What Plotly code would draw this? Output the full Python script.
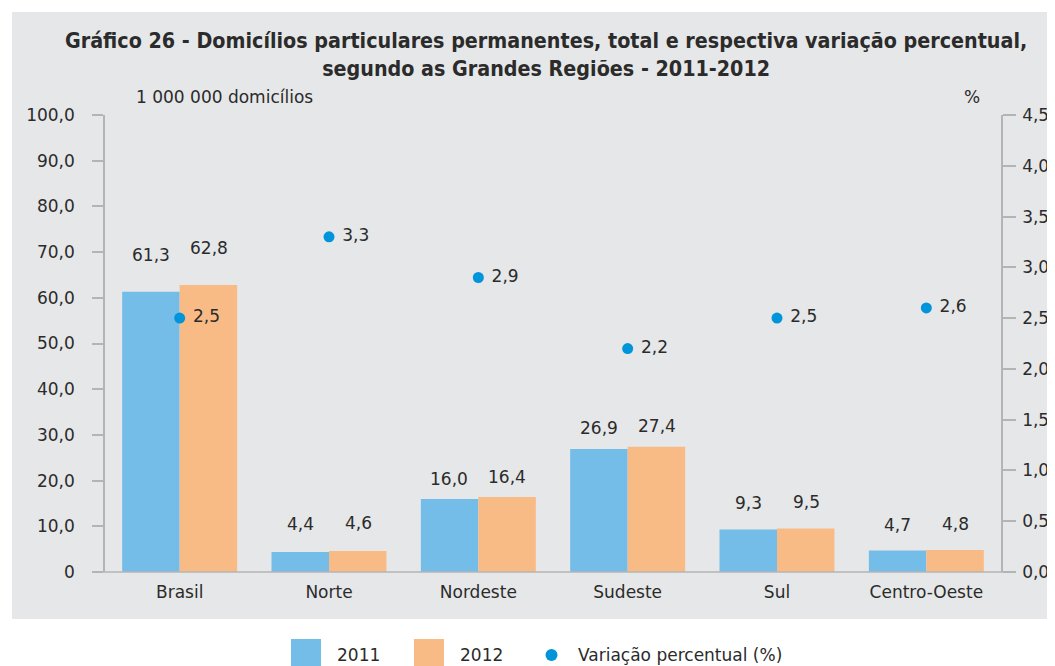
import plotly.graph_objects as go

categories = ["Brasil", "Norte", "Nordeste", "Sudeste", "Sul", "Centro-Oeste"]
dom_2011 = [61.3, 4.4, 16.0, 26.9, 9.3, 4.7]
dom_2012 = [62.8, 4.6, 16.4, 27.4, 9.5, 4.8]
variacao = [2.5, 3.3, 2.9, 2.2, 2.5, 2.6]

left_ticks = [0, 10, 20, 30, 40, 50, 60, 70, 80, 90, 100]
left_ticktext = ["0", "10,0", "20,0", "30,0", "40,0", "50,0", "60,0", "70,0", "80,0", "90,0", "100,0"]
right_ticks = [0, 0.5, 1.0, 1.5, 2.0, 2.5, 3.0, 3.5, 4.0, 4.5]
right_ticktext = ["0,0", "0,5", "1,0", "1,5", "2,0", "2,5", "3,0", "3,5", "4,0", "4,5"]

def br(v):
    return f"{v:.1f}".replace(".", ",")

C2011 = "#74bde8"
C2012 = "#f9bb85"
CDOT = "#0095da"
GRAY = "#e6e7e8"
AXIS = "#b4b4b4"
TXT = "#2b2b2b"
FONT = "DejaVu Sans, Verdana, sans-serif"
FS = 17

# pixel (page) -> paper helpers (plot area 105..1001 x 115..572 on the page)
def px(x):
    return (x - 105) / 896
def py(y):
    return (572 - y) / 457

fig = go.Figure()
fig.add_trace(go.Bar(x=categories, y=dom_2011, name="2011", marker_color=C2011,
                     marker_line_width=0, offsetgroup="a", showlegend=False))
fig.add_trace(go.Bar(x=categories, y=dom_2012, name="2012", marker_color=C2012,
                     marker_line_width=0, offsetgroup="b", showlegend=False))
fig.add_trace(go.Scatter(x=categories, y=variacao, name="Variação percentual (%)",
                         mode="markers+text", yaxis="y2", showlegend=False,
                         marker=dict(color=CDOT, size=11),
                         text=[" " + br(v) for v in variacao],
                         textposition="middle right",
                         textfont=dict(size=FS, color=TXT, family=FONT)))

# value labels above bars
shifts = [37, 28, 20, 21, 27, 26]
for i, c in enumerate(categories):
    fig.add_annotation(x=c, y=dom_2011[i], text=br(dom_2011[i]), showarrow=False,
                       xshift=-29, yshift=shifts[i], yref="y",
                       font=dict(size=FS, color=TXT, family=FONT))
    fig.add_annotation(x=c, y=dom_2012[i], text=br(dom_2012[i]), showarrow=False,
                       xshift=29, yshift=shifts[i], yref="y",
                       font=dict(size=FS, color=TXT, family=FONT))

# gray panel background
fig.add_shape(type="rect", xref="paper", yref="paper",
              x0=px(12), x1=px(1070), y0=py(619), y1=py(12),
              fillcolor=GRAY, line_width=0, layer="below")

fig.add_annotation(xref="paper", yref="paper", x=px(546), y=py(54),
                   yanchor="middle", xanchor="center", showarrow=False,
                   text="<b>Gráfico 26 - Domicílios particulares permanentes, total e respectiva variação percentual,<br>segundo as Grandes Regiões - 2011-2012</b>",
                   font=dict(size=21.3, color=TXT, family="DejaVu Sans Condensed, Liberation Sans, Arial"),
                   align="center")
fig.add_annotation(xref="paper", yref="paper", x=px(134), y=py(97),
                   xanchor="left", yanchor="middle", showarrow=False,
                   text="1 000 000 domicílios", font=dict(size=FS, color=TXT, family=FONT))
fig.add_annotation(xref="paper", yref="paper", x=px(972), y=py(97),
                   xanchor="center", yanchor="middle", showarrow=False,
                   text="%", font=dict(size=FS, color=TXT, family=FONT))

# legend (drawn manually to match the large swatches)
fig.add_shape(type="rect", xref="paper", yref="paper", x0=px(291), x1=px(321),
              y0=py(670), y1=py(639), fillcolor=C2011, line_width=0)
fig.add_annotation(xref="paper", yref="paper", x=px(335), y=py(655), xanchor="left",
                   yanchor="middle", showarrow=False, text="2011",
                   font=dict(size=FS, color=TXT, family=FONT))
fig.add_shape(type="rect", xref="paper", yref="paper", x0=px(414), x1=px(444),
              y0=py(670), y1=py(639), fillcolor=C2012, line_width=0)
fig.add_annotation(xref="paper", yref="paper", x=px(458), y=py(655), xanchor="left",
                   yanchor="middle", showarrow=False, text="2012",
                   font=dict(size=FS, color=TXT, family=FONT))
fig.add_shape(type="circle", xref="paper", yref="paper", x0=px(545.5), x1=px(557.5),
              y0=py(661), y1=py(649), fillcolor=CDOT, line_width=0)
fig.add_annotation(xref="paper", yref="paper", x=px(576), y=py(655), xanchor="left",
                   yanchor="middle", showarrow=False, text="Variação percentual (%)",
                   font=dict(size=FS, color=TXT, family=FONT))

# the page adds an 8px body margin, so the figure is 8px smaller than the window
fig.update_layout(
    width=1047, height=658,
    margin=dict(l=97, r=54, t=107, b=94, autoexpand=False),
    paper_bgcolor="white", plot_bgcolor="white",
    barmode="group", bargap=0.23, bargroupgap=0,
    showlegend=False,
    xaxis=dict(showline=False, ticks="", automargin=False,
               tickfont=dict(size=FS, color=TXT, family=FONT), ticklabelstandoff=8,
               showgrid=False),
    yaxis=dict(range=[0, 100], tickvals=left_ticks, ticktext=left_ticktext, automargin=False,
               showgrid=False, zeroline=False, showline=True, linecolor=AXIS, linewidth=1.5,
               ticks="outside", ticklen=11, tickcolor=AXIS, tickwidth=1.5,
               ticklabelstandoff=14,
               tickfont=dict(size=FS, color=TXT, family=FONT)),
    yaxis2=dict(range=[0, 4.5], tickvals=right_ticks, ticktext=right_ticktext, automargin=False,
                overlaying="y", side="right",
                showgrid=False, zeroline=False, showline=True, linecolor=AXIS, linewidth=1.5,
                ticks="outside", ticklen=13, tickcolor=AXIS, tickwidth=1.5,
                ticklabelstandoff=3,
                tickfont=dict(size=FS, color=TXT, family=FONT)),
)
# bottom axis line extending over tick extents
fig.add_shape(type="line", xref="paper", yref="paper", x0=px(93), x1=px(1014),
              y0=0, y1=0, line=dict(color=AXIS, width=1.5))

fig.write_html("out.html")
